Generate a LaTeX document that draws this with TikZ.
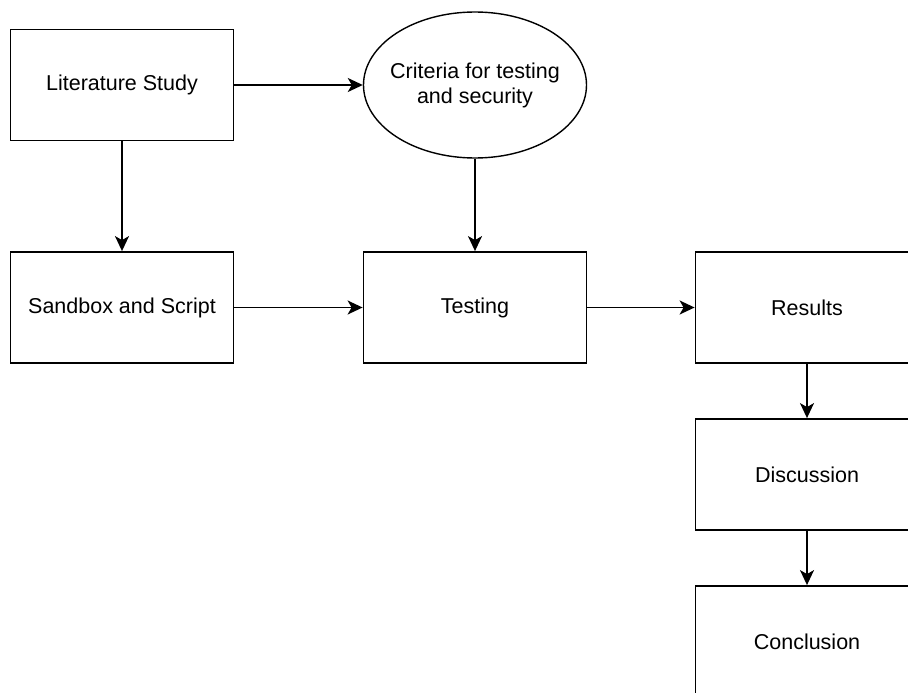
\documentclass[tikz,border=0pt]{standalone}
\usepackage{fontspec}
\setmainfont{Liberation Sans}
\usetikzlibrary{arrows.meta,shapes.geometric}
\begin{document}
\begin{tikzpicture}[x=1pt,y=-1pt,
  box/.style={draw=black,line width=1.8pt,fill=white,minimum width=223pt,minimum height=111pt,inner sep=0pt,font=\fontsize{21.5}{25}\selectfont},
  oval/.style={draw=black,line width=1.4pt,fill=white,ellipse,minimum width=223pt,minimum height=146pt,inner xsep=-12pt,inner ysep=0pt,align=center,font=\fontsize{21.5}{25}\selectfont},
  conn/.style={line width=1.8pt,-{Stealth[length=15pt,width=14pt,inset=4pt]}}]
\useasboundingbox (0,0) rectangle (908,693);
\clip (0,0) rectangle (908,693);
\node[box] (lit) at (122,85) {Literature Study};
\node[oval] (crit) at (475,85) {Criteria for testing\\and security};
\node[box] (sand) at (122,307.5) {Sandbox and Script};
\node[box] (test) at (475,307.5) {Testing};
\node[box] (res) at (807,307.5) {Results};
\node[box] (disc) at (807,474.5) {Discussion};
\node[box] (conc) at (807,641.5) {Conclusion};
\draw[conn] (lit) -- (crit);
\draw[conn] (lit) -- (sand);
\draw[conn] (crit) -- (test);
\draw[conn] (sand) -- (test);
\draw[conn] (test) -- (res);
\draw[conn] (res) -- (disc);
\draw[conn] (disc) -- (conc);
\end{tikzpicture}
\end{document}
